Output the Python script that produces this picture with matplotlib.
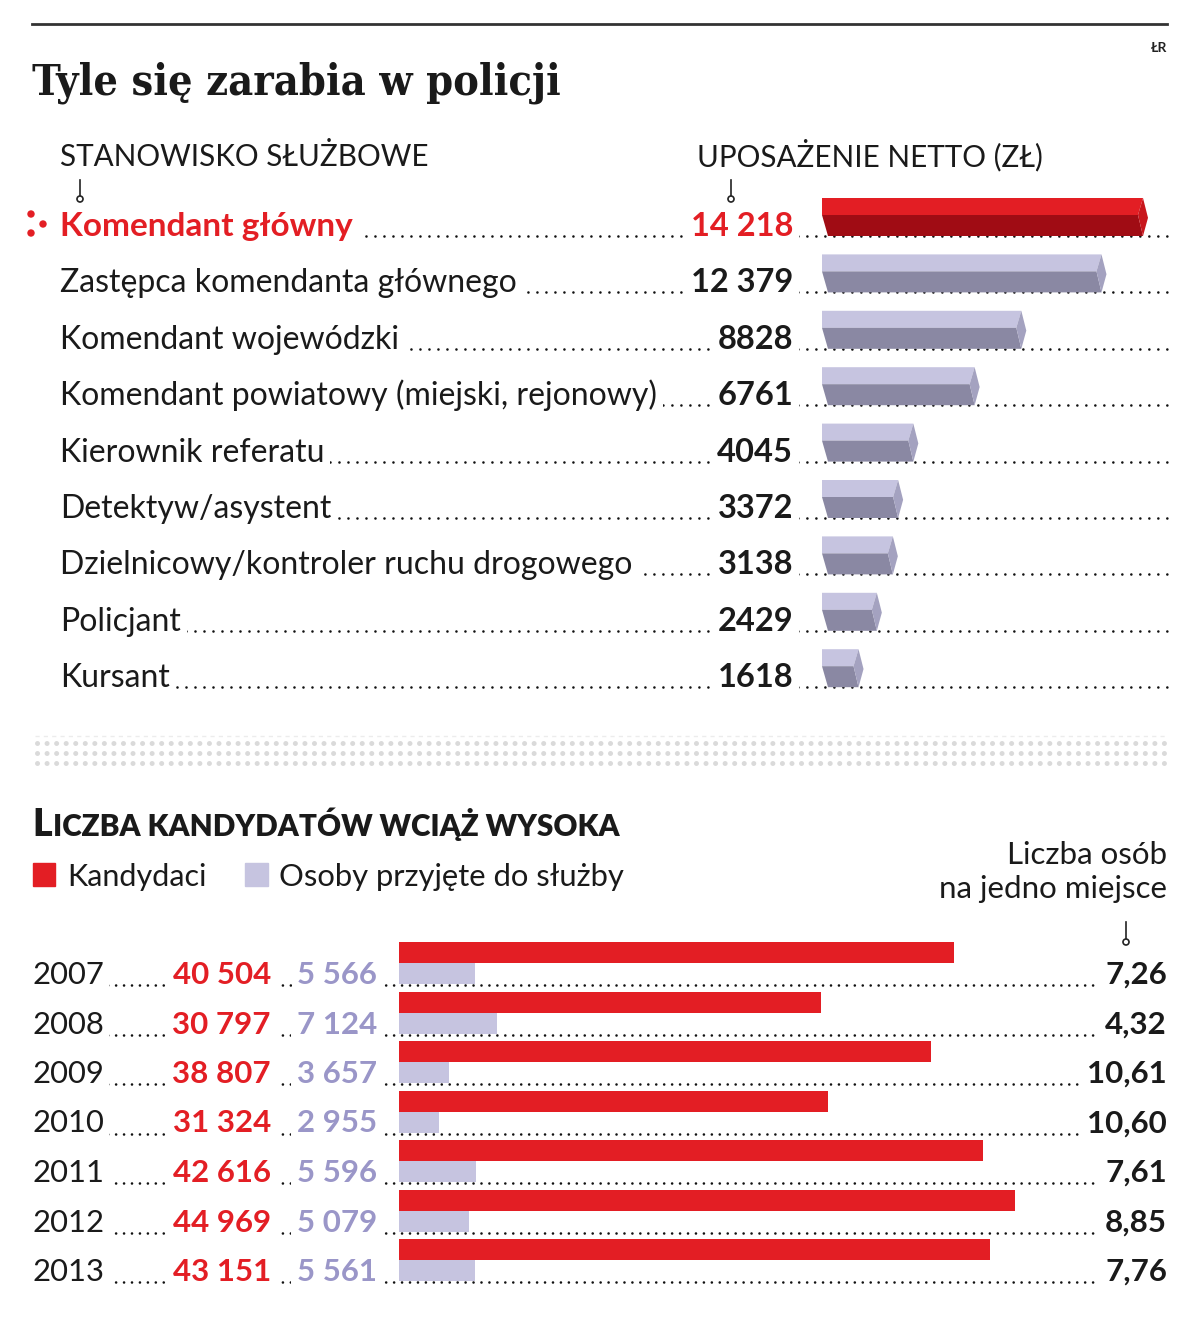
import matplotlib.pyplot as plt
from matplotlib.patches import Circle

# --- data ---
positions = ["Komendant główny", "Zastępca komendanta głównego", "Komendant wojewódzki",
             "Komendant powiatowy (miejski, rejonowy)", "Kierownik referatu", "Detektyw/asystent",
             "Dzielnicowy/kontroler ruchu drogowego", "Policjant", "Kursant"]
salary = [14218, 12379, 8828, 6761, 4045, 3372, 3138, 2429, 1618]
salary_lbl = ["14 218", "12 379", "8828", "6761", "4045", "3372", "3138", "2429", "1618"]

years = ["2007", "2008", "2009", "2010", "2011", "2012", "2013"]
candidates = [40504, 30797, 38807, 31324, 42616, 44969, 43151]
accepted = [5566, 7124, 3657, 2955, 5596, 5079, 5561]
cand_lbl = ["40 504", "30 797", "38 807", "31 324", "42 616", "44 969", "43 151"]
acc_lbl = ["5 566", "7 124", "3 657", "2 955", "5 596", "5 079", "5 561"]
per_place = ["7,26", "4,32", "10,61", "10,60", "7,61", "8,85", "7,76"]

RED = "#e31e24"
RED_D = "#a00c14"
RED_E = "#c8161c"
LAV = "#c6c4e0"
LAV_D = "#8a88a3"
LAV_E = "#a4a2c0"
LAV_TXT = "#9a96c8"
INK = "#1a1a1a"
SANS = "Lato"

W, H = 1200, 1326
fig = plt.figure(figsize=(12, 13.26), dpi=100)
ax = fig.add_axes([0, 0, 1, 1])
ax.set_xlim(0, W)
ax.set_ylim(H, 0)
ax.axis("off")

def dots(y, x0, x1, color="#111111", lw=1.9, gap=3.4):
    ax.plot([x0, x1], [y, y], color=color, lw=lw, linestyle=(0, (0.01, gap)),
            dash_capstyle="round", zorder=1)

def pointer(x, y0, y1):
    ax.plot([x, x], [y0, y1 - 3], color="#222222", lw=1.2, zorder=3)
    ax.add_patch(Circle((x, y1), 3, facecolor="white", edgecolor="#222222", lw=1.2, zorder=4))

white = dict(boxstyle="square,pad=0.18", facecolor="white", edgecolor="none")

# header
ax.plot([32, 1167], [24, 24], color="#333333", lw=2)
ax.text(1167, 48, "ŁR", ha="right", va="center", fontsize=10, fontweight="bold",
        family=SANS, color="#222222")
ax.text(32, 95, "Tyle się zarabia w policji", ha="left", va="baseline", fontsize=31,
        fontweight="bold", family="DejaVu Serif", fontstretch="condensed", color=INK)

ax.text(60, 166, "STANOWISKO SŁUŻBOWE", ha="left", va="baseline", fontsize=21.3,
        fontweight="normal", family=SANS, color=INK)
ax.text(697, 166, "UPOSAŻENIE NETTO (ZŁ)", ha="left", va="baseline", fontsize=21.3,
        fontweight="normal", family=SANS, color=INK)
pointer(80, 180, 199)
pointer(731, 180, 199)

# --- top section rows ---
top_base = 236
top_step = 56.4
for i, (name, lbl) in enumerate(zip(positions, salary_lbl)):
    yb = top_base + i * top_step
    dots(yb, 60, 1167)
    c = RED if i == 0 else INK
    ax.text(60, yb, name, ha="left", va="baseline", fontsize=24 if i == 0 else 23,
            fontweight="bold" if i == 0 else "normal", family=SANS, color=c, bbox=white, zorder=5)
    ax.text(793, yb, lbl, ha="right", va="baseline", fontsize=23.5, fontweight="bold",
            family=SANS, color=c, bbox=white, zorder=5)

for (x, y) in [(31, 214), (31, 233), (43, 224)]:
    ax.add_patch(Circle((x, y), 3, color=RED, zorder=5))

# prism bars in their own axes: x in zł, y in rows (row baseline = i)
x0_px, x1_px = 822, 1143
y_top_px = top_base - top_step
y_bot_px = top_base + 8.5 * top_step
axb = fig.add_axes([x0_px / W, 1 - y_bot_px / H, (x1_px - x0_px) / W, (y_bot_px - y_top_px) / H])
axb.set_xlim(0, max(salary))
axb.set_ylim(8.5, -1)
axb.axis("off")
axb.patch.set_alpha(0)
k = max(salary) / (x1_px - x0_px)  # zł per pixel
d_tip, d_left = 5 * k, 6 * k
h_top = 17 / top_step
h_all = 38 / top_step
for i, v in enumerate(salary):
    top, mid, bot = i - h_all, i - h_all + h_top, i
    ctop, cfront, cend = (RED, RED_D, RED_E) if i == 0 else (LAV, LAV_D, LAV_E)
    axb.fill([0, v, v - d_tip, 0], [top, top, mid, mid], color=ctop, lw=0, clip_on=False)
    axb.fill([0, v - d_tip, v, d_left], [mid, mid, bot, bot], color=cfront, lw=0, clip_on=False)
    axb.fill([v, v + d_tip, v, v - d_tip], [top, mid + 0.05, bot, mid], color=cend, lw=0, clip_on=False)

# separator band of gray dots
ax.plot([35, 1167], [736, 736], color="#ececec", lw=1, linestyle=(0, (3, 3)))
for y in (743, 753, 763):
    dots(y, 37, 1167, color="#dadada", lw=3.6, gap=1.9)

# --- lower section ---
fig.canvas.draw()
r = fig.canvas.get_renderer()
t1 = ax.text(32, 836, "L", ha="left", va="baseline", fontsize=27, fontweight="heavy",
             family=SANS, color=INK)
bb = t1.get_window_extent(renderer=r)
ax.text(bb.x1 + 1, 836, "ICZBA KANDYDATÓW WCIĄŻ WYSOKA", ha="left", va="baseline",
        fontsize=21.3, fontweight="heavy", family=SANS, color=INK)

ax.add_patch(plt.Rectangle((33, 863), 22, 23, color=RED))
ax.text(67, 886, "Kandydaci", ha="left", va="baseline", fontsize=22, family=SANS, color=INK)
ax.add_patch(plt.Rectangle((245, 863), 23, 23, color=LAV))
ax.text(279, 886, "Osoby przyjęte do służby", ha="left", va="baseline", fontsize=22.3,
        family=SANS, color=INK)
ax.text(1167, 864, "Liczba osób", ha="right", va="baseline", fontsize=22.5, family=SANS, color=INK)
ax.text(1167, 898, "na jedno miejsce", ha="right", va="baseline", fontsize=22.5, family=SANS,
        color=INK)
pointer(1126, 922, 942)

low_base = 984
low_step = 49.5
for i, yr in enumerate(years):
    yb = low_base + i * low_step
    dots(yb + 1, 60, 1100, gap=3.0)
    ax.text(32, yb, yr, ha="left", va="baseline", fontsize=22.3, family=SANS, color=INK,
            bbox=white, zorder=5)
    ax.text(271, yb, cand_lbl[i], ha="right", va="baseline", fontsize=22.5, fontweight="bold",
            family=SANS, color=RED, bbox=white, zorder=5)
    ax.text(377, yb, acc_lbl[i], ha="right", va="baseline", fontsize=22.5, fontweight="bold",
            family=SANS, color=LAV_TXT, bbox=white, zorder=5)
    ax.text(1167, yb, per_place[i], ha="right", va="baseline", fontsize=22.5, fontweight="bold",
            family=SANS, color=INK, bbox=white, zorder=5)

bx0, bx1 = 399, 1015
y_top_px = low_base - low_step
y_bot_px = low_base + 6.5 * low_step
axl = fig.add_axes([bx0 / W, 1 - y_bot_px / H, (bx1 - bx0) / W, (y_bot_px - y_top_px) / H])
axl.set_xlim(0, max(candidates))
axl.set_ylim(6.5, -1)
axl.axis("off")
axl.patch.set_alpha(0)
hb = 21 / low_step
rows = list(range(len(years)))
axl.barh([i - 2 * hb for i in rows], candidates, height=hb, align="edge", color=RED, lw=0)
axl.barh([i - hb for i in rows], accepted, height=hb, align="edge", color=LAV, lw=0)

fig.savefig("out.png", dpi=100, facecolor="white")
